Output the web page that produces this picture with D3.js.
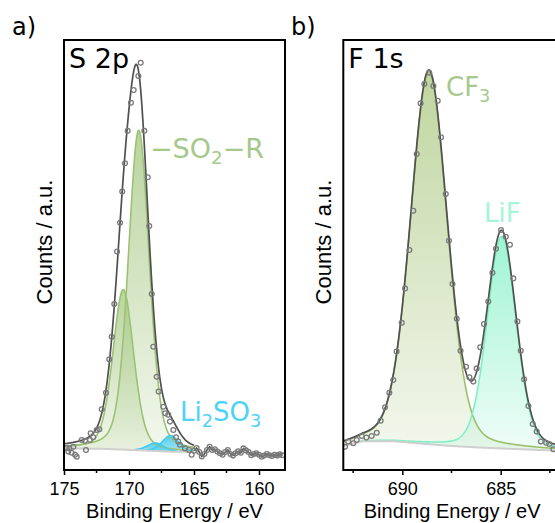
<!DOCTYPE html>
<html>
<head>
<meta charset="utf-8">
<script src="https://cdn.jsdelivr.net/npm/d3@7"></script>
<style>
  body { margin: 0; background: #fff; }
  svg { display: block; }
  .tick text { font-family: "Liberation Sans", Arial, sans-serif; }
</style>
</head>
<body>
<svg id="chart" width="555" height="523"></svg>
<script>
/* ---- data: S 2p (panel a) ---- */

// measured points [binding energy eV, counts a.u.]
var s2pPoints = [
  [174.79,0.055],[174.67,0.046],[174.59,0.054],[174.41,0.043],[174.28,0.058],
  [174.15,0.038],[174.02,0.033],[173.64,0.075],[173.38,0.073],[173.31,0.050],
  [173.00,0.075],[172.95,0.092],[172.75,0.082],[172.48,0.100],[172.28,0.102],
  [172.10,0.152],[171.77,0.193],[171.52,0.277],[171.33,0.333],[171.13,0.415],
  [170.92,0.546],[170.69,0.618],[170.52,0.696],[170.31,0.767],[170.10,0.848],
  [169.85,0.918],[169.64,0.950],[169.28,0.985],[169.10,1.018],[168.82,0.848],
  [168.56,0.732],[168.44,0.610],[168.25,0.440],[168.13,0.308],[167.87,0.233],
  [167.72,0.196],[167.36,0.158],[167.21,0.142],[166.98,0.138],[166.85,0.121],
  [166.59,0.100],[166.38,0.082],[166.21,0.071],[166.08,0.063],[165.69,0.054],
  [165.38,0.050],[165.18,0.038]
];
// raw trace outside the fit window
var s2pTail = [
  [165.0,0.048],[164.8,0.055],[164.6,0.045],[164.4,0.034],[164.2,0.040],
  [164.0,0.050],[163.8,0.058],[163.6,0.050],[163.4,0.052],[163.2,0.046],
  [163.0,0.042],[162.8,0.038],[162.6,0.045],[162.4,0.050],[162.2,0.040],
  [162.0,0.036],[161.8,0.042],[161.6,0.047],[161.4,0.043],[161.2,0.054],
  [161.0,0.049],[160.8,0.045],[160.6,0.037],[160.4,0.040],[160.2,0.042],
  [160.0,0.038],[159.8,0.033],[159.6,0.036],[159.4,0.040],[159.2,0.037],
  [159.0,0.035],[158.8,0.038],[158.6,0.036],[158.4,0.039],[158.2,0.037]
];
var s2pBackground = [[175,0.054],[172,0.053],[169,0.049],[167,0.046],[165,0.045]];
// fitted peaks: centre eV, height, FWHM eV, lorentz fraction
var s2pPeaks = [
  {name: "SO2R_12",   center: 170.44, height: 0.40,  fwhm: 1.9, eta: 0.3, color: "#9cc275"},
  {name: "SO2R_32",   center: 169.25, height: 0.80,  fwhm: 1.9, eta: 0.3, color: "#9cc275"},
  {name: "Li2SO3_12", center: 167.95, height: 0.020, fwhm: 1.5, eta: 0.2, color: "#3fcbf2"},
  {name: "Li2SO3_32", center: 166.80, height: 0.040, fwhm: 1.5, eta: 0.2, color: "#3fcbf2"}
];

/* ---- data: F 1s (panel b) ---- */

var f1sPoints = [
  [692.91,0.058],[692.75,0.071],[692.49,0.067],[692.32,0.075],[692.06,0.085],
  [691.83,0.081],[691.56,0.085],[691.30,0.093],[691.10,0.123],[690.88,0.157],
  [690.66,0.193],[690.46,0.225],[690.29,0.296],[690.03,0.368],[689.86,0.454],
  [689.64,0.550],[689.44,0.648],[689.27,0.790],[689.07,0.917],[688.88,0.965],
  [688.63,0.993],[688.42,0.960],[688.20,0.923],[688.03,0.832],[687.79,0.690],
  [687.63,0.573],[687.45,0.465],[687.23,0.378],[687.04,0.298],[686.76,0.258],
  [686.59,0.232],[686.39,0.221],[686.22,0.254],[686.04,0.307],[685.85,0.365],
  [685.63,0.421],[685.42,0.493],[685.24,0.553],[684.98,0.600],[684.74,0.583],
  [684.53,0.563],[684.36,0.479],[684.15,0.371],[683.98,0.298],[683.81,0.227],
  [683.59,0.160],[683.37,0.115],[683.17,0.096],[682.96,0.071],[682.69,0.068],
  [682.53,0.065],[682.32,0.052]
];
var f1sBackground = [[693,0.060],[692,0.072],[690.5,0.072],[689,0.066],[687.5,0.060],[686,0.056],[684,0.052],[682,0.048]];
var f1sPeaks = [
  {name: "CF3", center: 688.65, height: 0.93, fwhm: 2.2,  eta: 0.2, color: "#9dbf6c"},
  {name: "LiF", center: 684.95, height: 0.53, fwhm: 1.75, eta: 0.2, color: "#7ff0c6"}
];

var ticksA = [175, 170, 165, 160], minorA = [172.5, 167.5, 162.5];
var ticksB = [690, 685], minorB = [692.5, 687.5, 682.5];

/* ---- drawing ---- */

var svg = d3.select("#chart");
var defs = svg.append("defs");

function pv(p, e) {
  var d = e - p.center, f2 = p.fwhm * p.fwhm;
  var g = Math.exp(-4 * Math.LN2 * d * d / f2);
  var l = 1 / (1 + 4 * d * d / f2);
  return p.height * ((1 - p.eta) * g + p.eta * l);
}

function gradient(id, color, top, bottom) {
  var lg = defs.append("linearGradient").attr("id", id)
    .attr("x1", 0).attr("y1", 0).attr("x2", 0).attr("y2", 1);
  lg.append("stop").attr("offset", "0%").attr("stop-color", color).attr("stop-opacity", top);
  lg.append("stop").attr("offset", "100%").attr("stop-color", color).attr("stop-opacity", bottom);
}

function panel(opt) {
  var x = d3.scaleLinear().domain(opt.domain).range([opt.left, opt.right]);
  var y = d3.scaleLinear().domain([0, 1.075]).range([470, 40]);
  var bgScale = d3.scaleLinear()
    .domain(opt.background.map(function(d) { return d[0]; }))
    .range(opt.background.map(function(d) { return d[1]; }));

  defs.append("clipPath").attr("id", opt.id + "clip")
    .append("rect").attr("x", opt.left).attr("y", 40)
    .attr("width", opt.right - opt.left).attr("height", 430);

  var g = svg.append("g").attr("clip-path", "url(#" + opt.id + "clip)");

  // sampling grid for the fitted curves
  var lo = Math.min(opt.fit[0], opt.fit[1]), hi = Math.max(opt.fit[0], opt.fit[1]);
  var grid = d3.range(lo, hi + 0.001, 0.02);

  var area = d3.area().x(function(d) { return x(d.e); })
    .y0(function(d) { return y(d.b); }).y1(function(d) { return y(d.v); });
  var line = d3.line().x(function(d) { return x(d.e); }).y(function(d) { return y(d.v); });

  opt.peaks.forEach(function(p, i) {
    var pts = grid.map(function(e) { var b = bgScale(e); return {e: e, b: b, v: b + pv(p, e)}; })
      .filter(function(d) { return d.v - d.b > 0.0015; });
    gradient(opt.id + "grad" + i, p.color, p.top, p.bottom);
    g.append("path").datum(pts).attr("d", area)
      .attr("fill", "url(#" + opt.id + "grad" + i + ")");
  });
  opt.peaks.forEach(function(p) {
    var pts = grid.map(function(e) { var b = bgScale(e); return {e: e, v: b + pv(p, e)}; })
      .filter(function(d) { return pv(p, d.e) > 0.0015; });
    g.append("path").datum(pts).attr("d", line)
      .attr("fill", "none").attr("stroke", p.color).attr("stroke-width", 1.6);
  });

  // background
  g.append("path").datum(grid.map(function(e) { return {e: e, v: bgScale(e)}; }))
    .attr("d", line).attr("fill", "none").attr("stroke", "#cfcfcf").attr("stroke-width", 2);

  // raw tail outside the fit
  if (opt.tail) {
    g.append("path").datum(opt.tail.map(function(d) { return {e: d[0], v: d[1]}; }))
      .attr("d", line).attr("fill", "none").attr("stroke", "#555").attr("stroke-width", 1.6);
  }

  // envelope
  var env = grid.map(function(e) {
    return {e: e, v: bgScale(e) + d3.sum(opt.peaks, function(p) { return pv(p, e); })};
  });
  g.append("path").datum(env).attr("d", line)
    .attr("fill", "none").attr("stroke", "#505050").attr("stroke-width", 1.7);

  // measured points
  g.selectAll("circle.pt").data(opt.points.concat(opt.tail || [])).enter()
    .append("circle").attr("class", "pt")
    .attr("cx", function(d) { return x(d[0]); })
    .attr("cy", function(d) { return y(d[1]); })
    .attr("r", 2.4).attr("fill", "none").attr("stroke", "#7a7a7a").attr("stroke-width", 1.3);

  // axis
  var ax = svg.append("g").attr("transform", "translate(0,470)");
  ax.call(d3.axisBottom(x).tickValues(opt.ticks).tickSize(5).tickPadding(7).tickFormat(d3.format("d")))
    .call(function(s) {
      s.select(".domain").remove();
      s.selectAll(".tick line").attr("stroke-width", 1.5);
      s.selectAll(".tick text").attr("font-size", 18).attr("fill", "#000");
    });
  ax.selectAll("line.minor").data(opt.minor).enter().append("line").attr("class", "minor")
    .attr("x1", x).attr("x2", x).attr("y1", 0).attr("y2", 3)
    .attr("stroke", "#000").attr("stroke-width", 1.5);

  // frame
  svg.append("rect").attr("x", opt.left).attr("y", 40)
    .attr("width", opt.right - opt.left).attr("height", 430)
    .attr("fill", "none").attr("stroke", "#000").attr("stroke-width", 2);

  // titles
  svg.append("text").attr("x", (opt.left + Math.min(opt.right, 555)) / 2 + opt.titleShift).attr("y", 518)
    .attr("text-anchor", "middle").attr("font-family", "Liberation Sans, Arial, sans-serif")
    .attr("font-size", 20).text("Binding Energy / eV");
  svg.append("text").attr("transform", "translate(" + (opt.left - 12) + ",242) rotate(-90)")
    .attr("text-anchor", "middle").attr("font-family", "Liberation Sans, Arial, sans-serif")
    .attr("font-size", 22).text("Counts / a.u.");
  svg.append("text").attr("x", opt.panelX).attr("y", 35)
    .attr("font-family", "DejaVu Sans, sans-serif").attr("font-size", 24).text(opt.panel);
  svg.append("text").attr("x", opt.left + 5).attr("y", 68)
    .attr("font-family", "DejaVu Sans, sans-serif").attr("font-size", 27).text(opt.core);
}

function label(x, y, color, size, parts) {
  var t = svg.append("text").attr("x", x).attr("y", y).attr("fill", color)
    .attr("font-family", "DejaVu Sans, sans-serif").attr("font-size", size);
  parts.forEach(function(p) {
    var ts = t.append("tspan").text(p[0]);
    if (p[1]) ts.attr("font-size", size * 0.68).attr("dy", size * 0.22);
    else if (p[2]) ts.attr("dy", -size * 0.22);
  });
}

s2pPeaks.forEach(function(p) { p.top = p.name.indexOf("Li2") === 0 ? 0.9 : 0.7; p.bottom = p.name.indexOf("Li2") === 0 ? 0.4 : 0.12; });
f1sPeaks.forEach(function(p) { p.top = p.name === "LiF" ? 0.75 : 0.65; p.bottom = 0.12; });

panel({id: "a", domain: [175, 158], left: 64, right: 285, fit: [175, 165],
  points: s2pPoints, tail: s2pTail, background: s2pBackground, peaks: s2pPeaks,
  ticks: ticksA, minor: minorA, panel: "a)", panelX: 12, core: "S 2p", titleShift: 0});

panel({id: "b", domain: [693, 682], left: 343.3, right: 559.7, fit: [693, 682],
  points: f1sPoints, tail: null, background: f1sBackground, peaks: f1sPeaks,
  ticks: ticksB, minor: minorB, panel: "b)", panelX: 291, core: "F 1s", titleShift: 3});

label(150, 158, "#a6c98b", 27, [["\u2212SO"], ["2", true], ["\u2212R", false, true]]);
label(180, 421, "#4dd3f7", 26, [["Li"], ["2", true], ["SO", false, true], ["3", true]]);
label(446, 96, "#a6c98b", 26, [["CF"], ["3", true]]);
label(484, 222, "#a5f5d8", 26, [["LiF"]]);
</script>
</body>
</html>
